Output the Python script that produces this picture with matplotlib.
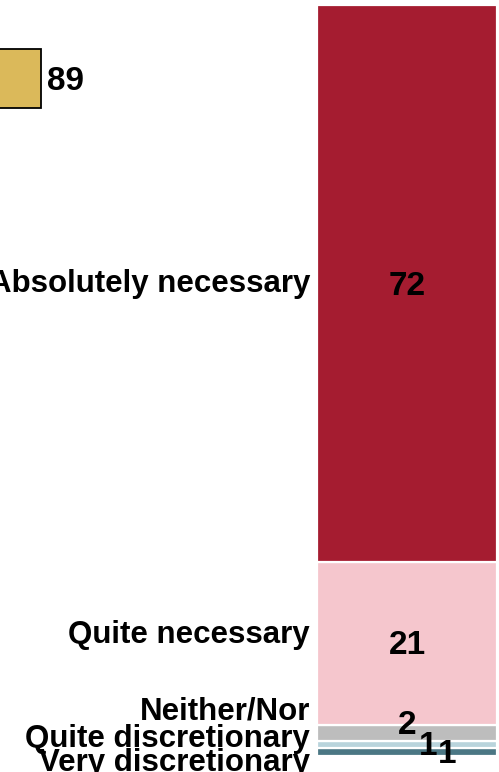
import matplotlib
matplotlib.use("Agg")
import matplotlib.pyplot as plt

# stacked bar, bottom to top
categories = ["Very discretionary", "Quite discretionary", "Neither/Nor",
              "Quite necessary", "Absolutely necessary"]
values = [1, 1, 2, 21, 72]
colors = ["#4b7784", "#b9d4dc", "#bdbdbd", "#f5c6cd", "#a51c30"]

# single highlighted value shown at top left
highlight_value = 89
highlight_color = "#dbb95a"

# label nudges (points) as placed by the original layout
label_dy = [-8, 4, 15, 6.5, 0]
value_dx = [29, 15, 0, 0, 0]
value_dy = [-1.5, -1.5, 5, -1.5, -2]


def main():
    plt.rcParams['font.family'] = ['Liberation Sans', 'DejaVu Sans']
    plt.rcParams['font.weight'] = 'bold'
    fig = plt.figure(figsize=(4.99, 7.72), dpi=100)

    #------------- stacked bar
    ax = fig.add_axes([0, 0, 1, 1])
    ax.set_axis_off()
    bottom = 0
    for cat, val, col, ldy, vdx, vdy in zip(categories, values, colors,
                                             label_dy, value_dx, value_dy):
        ax.bar(0, val, bottom=bottom, width=1, color=col,
               edgecolor="white", linewidth=1.6)
        mid = bottom + val / 2
        ax.annotate(cat, (-0.5, mid), xytext=(-5, ldy),
                    textcoords="offset points", ha="right", va="center",
                    fontsize=22.5, fontweight="bold")
        ax.annotate(str(val), (0, mid), xytext=(vdx, vdy),
                    textcoords="offset points", ha="center", va="center",
                    fontsize=24, fontweight="bold")
        bottom += val
    total = sum(values)
    ax.set_xlim(-0.5 - 317 / 180, 0.5 + 2 / 180)
    ax.set_ylim(-16 / 7.74, total + 5 / 7.74)

    #------------- highlighted bar
    ax2 = fig.add_axes([0, (772 - 108) / 772, 100 / 499, 59 / 772])
    ax2.set_axis_off()
    ax2.patch.set_alpha(0)
    ax2.barh(0, highlight_value, height=1, color=highlight_color,
             edgecolor="black", linewidth=1.3, clip_on=False)
    ax2.annotate(str(highlight_value), (highlight_value, 0), xytext=(4, -2),
                 textcoords="offset points", ha="left", va="center",
                 fontsize=24, fontweight="bold")
    ax2.set_xlim(70, 70 + 100 / (41 / 19))
    ax2.set_ylim(-0.5, 0.5)

    fig.savefig("out.png", dpi=100)


if __name__ == "__main__":
    main()
